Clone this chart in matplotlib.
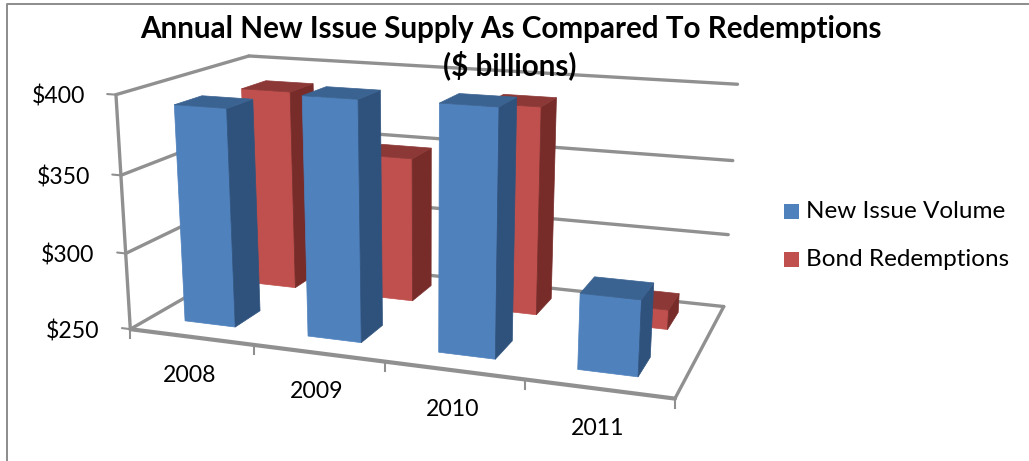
# Annual new issue supply vs redemptions, drawn as a 3-D column chart
import matplotlib.pyplot as plt
from matplotlib.patches import Polygon
import numpy as np

plt.rcParams['font.family'] = ['Lato', 'DejaVu Sans']

years = ['2008', '2009', '2010', '2011']
new_issue = [391, 402, 403, 297]
redemptions = [387, 348, 388, 263]
y_ticks = [250, 300, 350, 400]

W, H = 1029, 461
y_min, y_max = 250, 400

blue = ('#4F81BD', '#2F527D', '#3B6391')
red = ('#C0504D', '#772C2A', '#8C3836')
axis_color = '#909090'

# corners of the plot box: (category, depth, value) -> pixel position
box_3d = [(0, 0, 0), (4, 0, 0), (0, 1, 0), (4, 1, 0), (0, 0, 1), (4, 0, 1), (0, 1, 1), (4, 1, 1)]
box_px = [(130, 329), (676, 398), (256, 257), (723, 307), (116, 94), (688, 136), (249, 56.5), (738, 83)]


def fit_camera(pts3, pts2):
    rows = []
    for (x, y, z), (u, v) in zip(pts3, pts2):
        rows.append([x, y, z, 1, 0, 0, 0, 0, -u * x, -u * y, -u * z, -u])
        rows.append([0, 0, 0, 0, x, y, z, 1, -v * x, -v * y, -v * z, -v])
    return np.linalg.svd(np.array(rows, dtype=float))[2][-1].reshape(3, 4)


cam = fit_camera(box_3d, box_px)


def project(x, d, value):
    z = (value - y_min) / (y_max - y_min)
    p = cam @ np.array([x, d, z, 1.0])
    return p[0] / p[2], p[1] / p[2]


def edge(ax, a, b, lw=2.4):
    pa, pb = project(*a), project(*b)
    ax.plot([pa[0], pb[0]], [pa[1], pb[1]], color=axis_color, lw=lw,
            solid_capstyle='round', zorder=2)


def draw_bar(ax, x0, x1, d0, d1, value, colors, zorder):
    front = [project(x0, d0, y_min), project(x1, d0, y_min), project(x1, d0, value), project(x0, d0, value)]
    side = [project(x1, d0, y_min), project(x1, d1, y_min), project(x1, d1, value), project(x1, d0, value)]
    top = [project(x0, d0, value), project(x1, d0, value), project(x1, d1, value), project(x0, d1, value)]
    for pts, c in zip((front, side, top), colors):
        ax.add_patch(Polygon(pts, closed=True, facecolor=c, edgecolor=c, lw=0.5, zorder=zorder))


fig = plt.figure(figsize=(W / 100, H / 100), dpi=100)
ax = fig.add_axes([0, 0, 1, 1])
ax.set_xlim(0, W)
ax.set_ylim(H, 0)
ax.axis('off')

# chart frame
ax.plot([7, 7, W + 5], [H + 5, 4.5, 4.5], color='#8C8C8C', lw=1.4, zorder=1)

# walls, floor and gridlines
for v in y_ticks:
    edge(ax, (0, 0, v), (0, 1, v))
    edge(ax, (0, 1, v), (4, 1, v))
    edge(ax, (-0.07, 0, v), (0, 0, v), lw=1.5)
edge(ax, (0, 0, y_min), (0, 0, y_max))
edge(ax, (4, 0, y_min), (4, 1, y_min))
edge(ax, (0, 0, y_min), (4, 0, y_min), lw=3.0)
for i in range(5):
    a = project(i, 0, y_min)
    ax.plot([a[0], a[0]], [a[1], a[1] + 9], color=axis_color, lw=1.5, zorder=2)

# columns, back row first so the front row covers it
x_lo, x_hi = 0.28, 0.695
for i in range(4):
    draw_bar(ax, i + x_lo, i + x_hi, 0.66, 0.87, redemptions[i], red, 3 + i)
for i in range(4):
    draw_bar(ax, i + x_lo, i + x_hi, 0.15, 0.35, new_issue[i], blue, 8 + i)

# tick labels
for v in y_ticks:
    px, py = project(0, 0, v)
    ax.text(px - 31, py + 2, f'${v}', fontsize=16.6, ha='right', va='center', color='black')
year_px = [(190, 375), (317, 391), (453, 409), (598, 428)]
for label, (px, py) in zip(years, year_px):
    ax.text(px, py, label, fontsize=16.6, ha='center', va='center', color='black')

# title
ax.text(511, 29, 'Annual New Issue Supply As Compared To Redemptions', fontsize=21.3,
        fontweight='bold', ha='center', va='center', zorder=20)
ax.text(510, 65, '($ billions)', fontsize=21.3, fontweight='bold', ha='center', va='center', zorder=20)

# legend
for y, name, c in [(211, 'New Issue Volume', blue[0]), (259, 'Bond Redemptions', red[0])]:
    ax.add_patch(Polygon([(784, y - 7), (799, y - 7), (799, y + 8), (784, y + 8)], facecolor=c, edgecolor='none'))
    ax.text(806, y, name, fontsize=17.5, ha='left', va='center', color='black')

fig.savefig('out.png', dpi=100)
